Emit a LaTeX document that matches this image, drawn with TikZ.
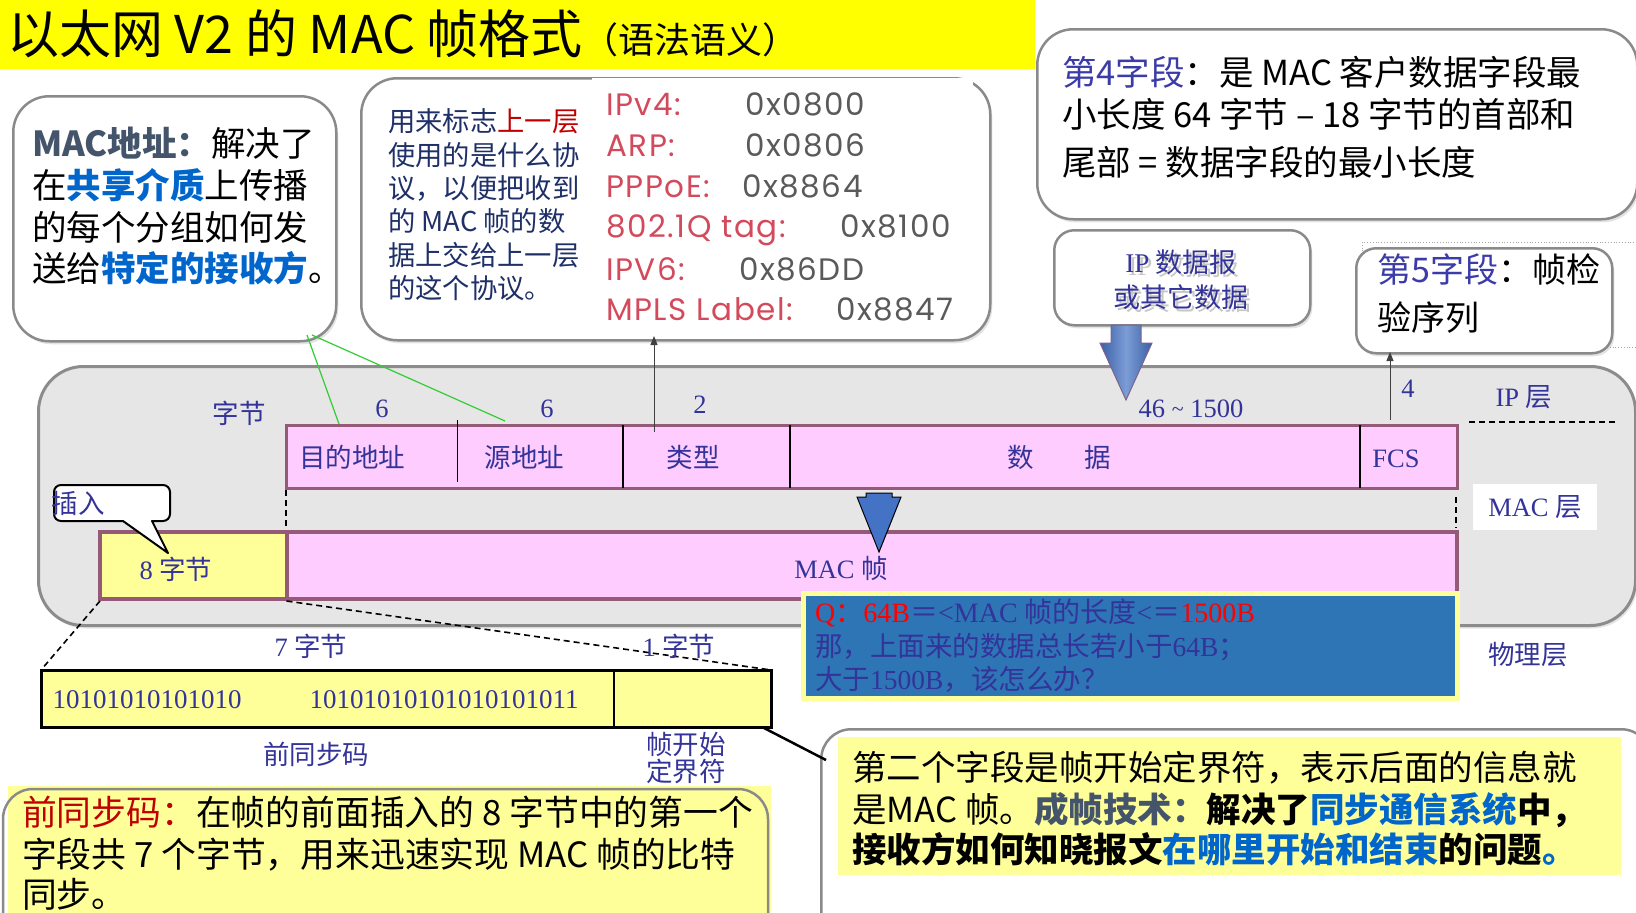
\documentclass[tikz,border=0pt]{standalone}
\usepackage{fontspec}
\setmainfont{Liberation Serif}
\newfontfamily\zh{Noto Sans CJK SC}
\newfontfamily\geo{Poppins}[LetterSpace=5]
\usetikzlibrary{arrows.meta,shadows}
\newcommand\fsz[1]{\fontsize{#1}{#1}\selectfont}
\definecolor{titleyellow}{HTML}{FFFF00}
\definecolor{paleyellow}{HTML}{FFFF99}
\definecolor{fieldpink}{HTML}{FFCCFF}
\definecolor{fieldedge}{HTML}{955A78}
\definecolor{panelgray}{HTML}{E6E6E6}
\definecolor{paneledge}{HTML}{8C8C8C}
\definecolor{boxedge}{HTML}{8A8A8A}
\definecolor{slate}{HTML}{44546A}
\definecolor{keyblue}{HTML}{0066CC}
\definecolor{navy}{HTML}{1F3068}
\definecolor{deepred}{HTML}{C00000}
\definecolor{ink}{HTML}{333399}
\definecolor{fieldno}{HTML}{3C3CA8}
\definecolor{arrowblue}{HTML}{4472C4}
\definecolor{qblue}{HTML}{2E75B6}
\definecolor{qred}{HTML}{FF0000}
\definecolor{tabred}{HTML}{D24A5C}
\definecolor{tabgray}{HTML}{5A5A5A}
\definecolor{linkgreen}{HTML}{33CC33}
\tikzset{
  roundbox/.style={draw=boxedge, line width=2.5pt, fill=white, rounded corners=36pt,
    drop shadow={shadow xshift=2pt, shadow yshift=-3pt, opacity=0.22}},
  txt/.style={anchor=base west, inner sep=0pt},
  ctxt/.style={anchor=base, inner sep=0pt},
  lbl/.style={ctxt, text=ink, font=\fsz{26.5}},
  field/.style={draw=fieldedge, line width=3pt},
  divider/.style={draw=black, line width=1.8pt},
  dashlink/.style={draw=black, line width=1.6pt, dash pattern=on 6pt off 4pt},
  tabkey/.style={txt, text=tabred, font=\geo\fsz{31}},
  tabval/.style={txt, text=tabgray, font=\geo\fsz{31}},
  bigarrow/.style={draw=fieldedge!70!arrowblue, line width=1pt,
    left color=arrowblue!85!black, right color=arrowblue!85!black, middle color=arrowblue!70!white},
  uparrow/.style={draw=black!75, line width=1pt, -{Triangle[width=7pt,length=9pt]}},
}
% text with a faint offset copy behind it
\newcommand\ghost[1]{\makebox[0pt][l]{\hspace{3pt}\raisebox{-3pt}{\color{black!22}#1}}#1}
\begin{document}
\begin{tikzpicture}[x=1pt,y=-1pt]
\useasboundingbox (0,0) rectangle (1636,913);
\fill[white] (0,0) rectangle (1636,913);

% ---------- title ----------
\fill[titleyellow] (0,0) rectangle (1035,69);
\node[txt, font=\zh\fsz{52}] (title) at (7,53) {以太网 V2 的 MAC 帧格式{\fsz{36}（语法语义）}};

% ---------- upper explanation boxes ----------
\node[roundbox, anchor=north west, minimum width=323pt, minimum height=245pt] (macbox) at (12,95) {};
\node[txt, font=\zh\fsz{34.5}] (mac1) at (32,156) {{\bfseries\color{slate}MAC地址：}解决了};
\node[txt, font=\zh\fsz{34.5}] (mac2) at (32,198) {在{\bfseries\color{keyblue}共享介质}上传播};
\node[txt, font=\zh\fsz{34.5}] (mac3) at (32,240) {的每个分组如何发};
\node[txt, font=\zh\fsz{34.5}] (mac4) at (32,281) {送给{\bfseries\color{keyblue}特定的接收方}。};

\node[roundbox, anchor=north west, minimum width=629pt, minimum height=262pt] (protobox) at (360,77) {};
\node[txt, text=navy, font=\zh\fsz{27.3}] (pr1) at (388,131) {用来标志{\color{deepred}上一层}};
\node[txt, text=navy, font=\zh\fsz{27.3}] (pr2) at (388,165) {使用的是什么协};
\node[txt, text=navy, font=\zh\fsz{27.3}] (pr3) at (388,198) {议，以便把收到};
\node[txt, text=navy, font=\zh\fsz{27.3}] (pr4) at (388,231) {的 MAC 帧的数};
\node[txt, text=navy, font=\zh\fsz{27.3}] (pr5) at (388,265) {据上交给上一层};
\node[txt, text=navy, font=\zh\fsz{27.3}] (pr6) at (388,298) {的这个协议。};

% ethertype table
\fill[white] (592,78) rectangle (973,328);
\node[tabkey] (k1) at (606,115) {IPv4:};        \node[tabval] (v1) at (745,115) {0x0800};
\node[tabkey] (k2) at (606,156) {ARP:};         \node[tabval] (v2) at (745,156) {0x0806};
\node[tabkey] (k3) at (606,197) {PPPoE:};       \node[tabval] (v3) at (742,197) {0x8864};
\node[tabkey] (k4) at (606,237) {802.1Q tag:};  \node[tabval] (v4) at (840,237) {0x8100};
\node[tabkey] (k5) at (606,280) {IPV6:};        \node[tabval] (v5) at (739,280) {0x86DD};
\node[tabkey] (k6) at (606,320) {MPLS Label:};  \node[tabval] (v6) at (836,320) {0x8847};

\node[roundbox, anchor=north west, minimum width=600pt, minimum height=190pt] (f4box) at (1036,28) {};
\node[txt, font=\zh\fsz{34.5}] (f4a) at (1062,85) {{\color{fieldno}第4字段}：是 MAC 客户数据字段最};
\node[txt, font=\zh\fsz{34.5}] (f4b) at (1062,127) {小长度 64 字节 – 18 字节的首部和};
\node[txt, font=\zh\fsz{34.5}] (f4c) at (1062,175) {尾部 = 数据字段的最小长度};

\node[roundbox, rounded corners=20pt, anchor=north west, minimum width=256pt, minimum height=95pt] (ipbox) at (1053,229) {};
\node[ctxt, text=ink, font=\zh\fsz{27}] (ipa) at (1181,272.5) {\ghost{{\rmfamily IP} 数据报}};
\node[ctxt, text=ink, font=\zh\fsz{27}] (ipb) at (1181,307.5) {\ghost{或其它数据}};

\draw[black!35, line width=0.8pt, dotted] (1362,242) rectangle (1645,347);
\node[roundbox, rounded corners=20pt, anchor=north west, minimum width=256pt, minimum height=105pt] (f5box) at (1355,247) {};
\node[txt, font=\zh\fsz{34}] (f5a) at (1377,282) {{\color{fieldno}第5字段}：帧检};
\node[txt, font=\zh\fsz{34}] (f5b) at (1377,330) {验序列};

% ---------- layer panel ----------
\node[draw=paneledge, fill=panelgray, line width=3pt, rounded corners=45pt, anchor=north west,
  minimum width=1597pt, minimum height=259pt,
  drop shadow={shadow xshift=2pt, shadow yshift=-3pt, opacity=0.2}] (panel) at (37,365) {};

% green links from the address note
\coordinate (macfootA) at (307,335);
\coordinate (macfootB) at (312,335);
\coordinate (dstTop) at (339,424);
\coordinate (srcTop) at (505,421);
\draw[linkgreen, line width=1.2pt] (macfootA) -- (dstTop);
\draw[linkgreen, line width=1.2pt] (macfootB) -- (srcTop);

% MAC frame fields
\draw[field, fill=fieldpink] (286,425) rectangle (1457,488);
\draw[divider] (457.5,420) -- (457.5,482);
\draw[divider] (623,425) -- (623,488);
\draw[divider] (790,425) -- (790,488);
\draw[divider] (1360,425) -- (1360,488);
\node[lbl] (fdst) at (352,467) {\zh 目的地址};
\node[lbl] (fsrc) at (524.5,467) {\zh 源地址};
\node[lbl] (ftype) at (693,467) {\zh 类型};
\node[lbl] (fdata) at (1059,467) {\zh 数\hspace{1.9em}据};
\node[lbl] (ffcs) at (1396,467) {FCS};

\node[lbl] (bytes) at (239,423) {\zh 字节};
\node[lbl] (n1) at (382,417) {6};
\node[lbl] (n2) at (547,417) {6};
\node[lbl] (n3) at (700,413) {2};
\node[lbl] (n4) at (1191,417) {46 \raisebox{1pt}{\fsz{22}\textasciitilde} 1500};
\node[lbl] (n5) at (1408,397) {4};
\node[lbl] (iplayer) at (1524,406) {IP \zh 层};
\draw[dashlink] (1469,422) -- (1616,422);

% arrows to the notes above
\coordinate (typeFoot) at (654,432);
\coordinate (protoFoot) at (654,336);
\draw[uparrow] (typeFoot) -- (protoFoot);
\coordinate (fcsFoot) at (1390,420);
\coordinate (f5Foot) at (1390,352);
\draw[uparrow] (fcsFoot) -- (f5Foot);

% physical frame
\draw[dashlink] (286,490) -- (286,530);
\draw[dashlink] (1456,497) -- (1456,528);
\draw[field, fill=paleyellow, line width=4pt] (100,532) rectangle (286.5,599);
\draw[field, fill=fieldpink, line width=4pt] (286.5,532) rectangle (1457,599);
\node[lbl] (pre8) at (176,579) {8 \zh 字节};
\node[lbl] (macframe) at (841,578) {MAC \zh 帧};

% "insert" callout
\draw[black, line width=2pt, fill=white, line join=round]
  (152,521) [rounded corners=7pt] -- (170,521) -- (170,485) -- (54,485) -- (54,521) [sharp corners] -- (123,521) -- (168,553) -- cycle;
\node[lbl] (insert) at (78,513) {\zh 插入};

\fill[white] (1473,484) rectangle (1597,530);
\node[lbl] (maclayer) at (1535,516) {MAC \zh 层};

% blue pointers
\draw[bigarrow] (1111,325) -- (1141,325) -- (1141,343) -- (1152,343) -- (1126,400) -- (1100,343) -- (1111,343) -- cycle;
\draw[black, line width=1pt, fill=arrowblue] (866,493) -- (892,493) -- (892,497) -- (901,497) -- (879,552) -- (857,497) -- (866,497) -- cycle;

% question box
\draw[draw=paleyellow, line width=5pt, fill=qblue] (803,593) rectangle (1457,698);
\node[txt, font=\fsz{28}] (q1) at (815,622) {\textcolor{qred}{Q{\zh ：}64B}\textcolor{ink}{{\zh ＝}<MAC {\zh 帧的长度}<{\zh ＝}}\textcolor{qred}{1500B}};
\node[txt, text=ink, font=\fsz{27.5}] (q2) at (815,656) {{\zh 那，上面来的数据总长若小于}64B{\zh ；}};
\node[txt, text=ink, font=\fsz{27.5}] (q3) at (815,689) {{\zh 大于}1500B{\zh ，该怎么办？}};

\node[lbl] (phylayer) at (1528,664) {\zh 物理层};

% preamble detail
\draw[dashlink] (100,601) -- (41,670);
\draw[dashlink] (286.5,601) -- (771,670);
\draw[black, line width=3pt, fill=paleyellow] (41,670) rectangle (771,727);
\draw[black, line width=2pt] (613.5,670) -- (613.5,727);
\node[lbl, font=\fsz{27}] (bits1) at (147,708) {10101010101010};
\node[lbl, font=\fsz{27}] (bits2) at (444,708) {10101010101010101011};
\node[lbl] (seven) at (311,656) {7 \zh 字节};
\node[lbl] (one) at (679,656) {1 \zh 字节};
\node[lbl] (precode) at (316,764) {\zh 前同步码};
\node[lbl] (sfd1) at (686,754) {\zh 帧开始};
\node[lbl] (sfd2) at (686,781) {\zh 定界符};

% bottom notes
\fill[paleyellow] (8,786) rectangle (771,913);
\draw[boxedge, line width=2.5pt, rounded corners=30pt] (3,940) -- (3,789) -- (768,789) -- (768,940);
\node[txt, font=\zh\fsz{34.8}] (pa) at (22,825) {{\color{deepred}前同步码：}在帧的前面插入的 8 字节中的第一个};
\node[txt, font=\zh\fsz{34.8}] (pb) at (22,867) {字段共 7 个字节，用来迅速实现 MAC 帧的比特};
\node[txt, font=\zh\fsz{34.8}] (pc) at (22,907) {同步。};

\node[roundbox, rounded corners=30pt, anchor=north west, minimum width=830pt, minimum height=230pt] (sfdbox) at (820,728) {};
\fill[paleyellow] (838,737) rectangle (1621,875);
\coordinate (preCorner) at (764,728);
\coordinate (sfdEdge) at (826,760);
\draw[black, line width=2.5pt] (preCorner) -- (sfdEdge);
\node[txt, font=\zh\fsz{34.5}] (sa) at (852,780) {第二个字段是帧开始定界符，表示后面的信息就};
\node[txt, font=\zh\fsz{34.5}] (sb) at (852,822) {是MAC 帧。{\bfseries\color{slate}成帧技术：}{\bfseries 解决了}{\bfseries\color{keyblue}同步通信系统}{\bfseries 中，}};
\node[txt, font=\zh\fsz{34.5}] (sc) at (852,862) {{\bfseries 接收方如何知晓报文}{\bfseries\color{keyblue}在哪里开始和结束}{\bfseries 的问题}{\bfseries\color{keyblue}。}};
\end{tikzpicture}
\end{document}
